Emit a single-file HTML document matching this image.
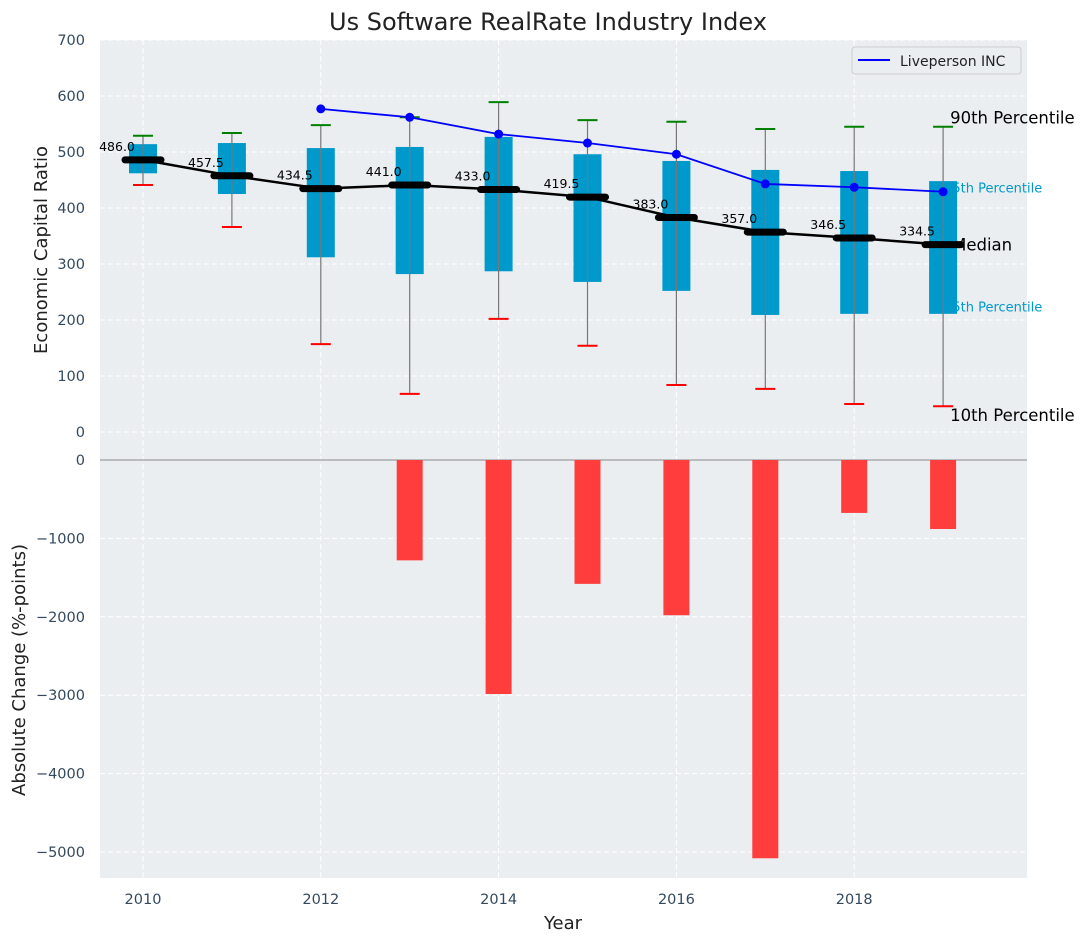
<!DOCTYPE html>
<html><head><meta charset="utf-8"><style>
body{margin:0;background:#fff;}
svg{display:block;font-family:"DejaVu Sans","Liberation Sans",sans-serif;}
</style></head><body>
<svg id="chart" width="1085" height="942" xmlns="http://www.w3.org/2000/svg">
<rect x="100" y="40" width="927" height="838" fill="#eaeef0"/>
<g id="grid"></g>
<g id="bot"></g>
<g id="top"></g>
<text x="548" y="30" text-anchor="middle" font-size="24" fill="#222">Us Software RealRate Industry Index</text>
<text transform="translate(47,250) rotate(-90)" text-anchor="middle" font-size="18" fill="#222">Economic Capital Ratio</text>
<text transform="translate(25,670) rotate(-90)" text-anchor="middle" font-size="18" fill="#222">Absolute Change (%-points)</text>
<text x="563" y="929" text-anchor="middle" font-size="18" fill="#222">Year</text>
<g>
<rect x="852" y="47" width="169" height="27" rx="3" fill="#eaeef0" stroke="#ccc"/>
<line x1="858" y1="60" x2="890" y2="60" stroke="#0000ff" stroke-width="2"/>
<text x="900" y="66" font-size="14" fill="#222">Liveperson INC</text>
</g>
</svg>
<script>
const years=[2010,2011,2012,2013,2014,2015,2016,2017,2018,2019];
const q25=[462,425,312,282,287,268,252,209,211,211];
const q75=[514,516,507,509,527,496,484,468,466,448];
const p10=[441,366,157,68,202,154,84,77,50,46];
const p90=[529,534,548,562,589,557,554,541,545,545];
const medians=[486.0,457.5,434.5,441.0,433.0,419.5,383.0,357.0,346.5,334.5];
const lpYears=[2012,2013,2014,2015,2016,2017,2018,2019];
const lpValues=[577,562,532,516,496,443,437,429];
const changes=[0,0,0,-1280,-2985,-1580,-1980,-5080,-675,-880];
const topTicks=[0,100,200,300,400,500,600,700];
const botTicks=[0,-1000,-2000,-3000,-4000,-5000];
const xTicks=[2010,2012,2014,2016,2018];
const labelNames=['90th Percentile','75th Percentile','Median','25th Percentile','10th Percentile'];
const labelValues=[562,436,334.5,223,30];

const NS="http://www.w3.org/2000/svg";
const X=v=>143+(v-2010)*88.9;
const YT=v=>432-v*0.56;
const YB=v=>460-v*0.0784;
function mk(parent,tag,attrs,text){const e=document.createElementNS(NS,tag);for(const k in attrs)e.setAttribute(k,attrs[k]);if(text!==undefined)e.textContent=text;document.getElementById(parent).appendChild(e);return e;}

topTicks.forEach(t=>{
  const l=mk('grid','line',{x1:100,x2:1027,y1:YT(t),y2:YT(t),stroke:'#fff','stroke-dasharray':'5,3'});
  
  
  const s=mk('grid','text',{x:85,y:YT(t)+5,'text-anchor':'end','font-size':14.5,fill:'#34495e'},t);
  
  
});
botTicks.forEach(t=>{
  const l=mk('grid','line',{x1:100,x2:1027,y1:YB(t),y2:YB(t),stroke:'#fff','stroke-dasharray':'5,3'});
  
  
  const s=mk('grid','text',{x:85,y:YB(t)+5,'text-anchor':'end','font-size':14.5,fill:'#34495e'},t===0?'0':'\u2212'+(-t));
  
  
});
xTicks.forEach(t=>{
  const l=mk('grid','line',{x1:X(t),x2:X(t),y1:40,y2:878,stroke:'#fff','stroke-dasharray':'5,3'});
  
  
  const s=mk('grid','text',{x:X(t),y:904,'text-anchor':'middle','font-size':14.5,fill:'#34495e'},t);
  
  
});
const zl=mk('bot','line',{x1:100,x2:1027,y1:YB(0),y2:YB(0),stroke:'#aaa','stroke-width':1.5});


changes.forEach((c,i)=>{
  if(c===0)return;
  const y0=YB(0),y1=YB(c);
  const r=mk('bot','rect',{x:X(years[i])-13,y:Math.min(y0,y1),width:26,height:Math.abs(y1-y0),fill:'#ff3d3d'});
  
  
});

const last=years.length-1, xl=X(years[last]);
labelNames.forEach((t,i)=>{
  const small=(i===1||i===3);
  const xs=(i===0||i===4)?xl+7:(i===2?xl+9:xl+1);
  const s=mk('top','text',{x:xs,y:YT(labelValues[i])+(small?4.5:6),'font-size':small?13:16.5,fill:small?'#0099cc':'#000'},t);
  
  
});
years.forEach((yr,i)=>{
  const x=X(yr);
  const b=mk('top','rect',{x:x-14,y:YT(q75[i]),width:28,height:YT(q25[i])-YT(q75[i]),fill:'#0099cc'});
  
  
  const w=mk('top','line',{x1:x,x2:x,y1:YT(p90[i]),y2:YT(p10[i]),stroke:'#777','stroke-width':1.2});
  
  
  const g=mk('top','line',{x1:x-10,x2:x+10,y1:YT(p90[i]),y2:YT(p90[i]),stroke:'green','stroke-width':2});
  
  
  const r=mk('top','line',{x1:x-10,x2:x+10,y1:YT(p10[i]),y2:YT(p10[i]),stroke:'red','stroke-width':2});
  
  
});
const mp=mk('top','polyline',{points:years.map((y,i)=>X(y)+','+YT(medians[i])).join(' '),fill:'none',stroke:'#000','stroke-width':2.5});


years.forEach((yr,i)=>{
  const m=mk('top','line',{x1:X(yr)-18,x2:X(yr)+18,y1:YT(medians[i]),y2:YT(medians[i]),stroke:'#000','stroke-width':7,'stroke-linecap':'round'});
  
  
  const t=mk('top','text',{x:X(yr)-26,y:YT(medians[i])-9,'text-anchor':'middle','font-size':12.5,fill:'#000'},medians[i].toFixed(1));
  
  
});
const lp=mk('top','polyline',{points:lpYears.map((y,i)=>X(y)+','+YT(lpValues[i])).join(' '),fill:'none',stroke:'#0000ff','stroke-width':1.8});


lpYears.forEach((yr,i)=>{
  const c=mk('top','circle',{cx:X(yr),cy:YT(lpValues[i]),r:4.5,fill:'#0000ff'});
  
  
});
</script>
</body></html>
